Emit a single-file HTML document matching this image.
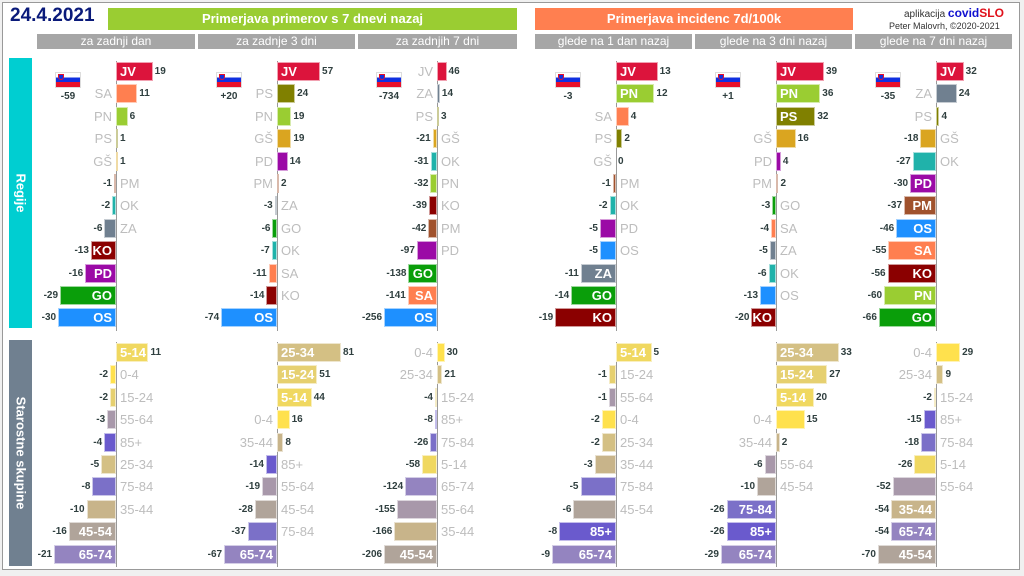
<!DOCTYPE html>
<html><head><meta charset="utf-8">
<style>
*{margin:0;padding:0;box-sizing:border-box}
body{width:1024px;height:576px;background:#f0f0f0;position:relative;overflow:hidden;font-family:"Liberation Sans",sans-serif}
#frame{position:absolute;left:2px;top:2px;width:1018px;height:568px;background:#fff;border:1px solid #999}
.a{position:absolute;white-space:nowrap}
.hdr{position:absolute;height:15px;top:34px;background:#a6a6a6;color:#fff;font-size:12px;text-align:center;line-height:15px}
.bar{position:absolute;height:19px;border:1px solid rgba(255,255,255,.6)}
.val{position:absolute;font-size:10px;color:#2f3f3f;line-height:19px;font-weight:bold}
.lab{position:absolute;font-size:13px;line-height:19px;color:#bdbdbd}
.labi{position:absolute;font-size:13px;line-height:19px;color:#fff;font-weight:bold}
.axis{position:absolute;width:1px;background:#999}
</style></head><body>
<div id="frame"></div>
<div class="a" style="left:10px;top:5px;font-size:19px;font-weight:bold;color:#0a1a7a">24.4.2021</div>
<div class="a" style="left:108px;top:8px;width:409px;height:22px;background:#9acd32;color:#fff;font-weight:bold;font-size:13px;text-align:center;line-height:22px">Primerjava primerov s 7 dnevi nazaj</div>
<div class="a" style="left:535px;top:8px;width:318px;height:22px;background:#ff7f50;color:#fff;font-weight:bold;font-size:13px;text-align:center;line-height:22px">Primerjava incidenc 7d/100k</div>
<div class="a" style="left:904px;top:6px;font-size:10px;color:#333">aplikacija <b style="color:#1010d0;font-size:12px">covid</b><b style="color:#e0101a;font-size:12px">SLO</b></div>
<div class="a" style="left:889px;top:21px;font-size:9px;color:#333">Peter Malovrh, ©2020-2021</div>
<div class="a" style="left:9px;top:58px;width:23px;height:270px;background:#00ced1"></div>
<div class="a" style="left:9px;top:340px;width:23px;height:226px;background:#708090"></div>
<div class="a" style="left:21px;top:193px;transform:translate(-50%,-50%) rotate(90deg);color:#fff;font-weight:bold;font-size:13px">Regije</div>
<div class="a" style="left:21px;top:453px;transform:translate(-50%,-50%) rotate(90deg);color:#fff;font-weight:bold;font-size:13px">Starostne skupine</div>
<div id="root"></div>
<script>
const C={JV:'#dc143c',SA:'#ff7f50',PN:'#9acd32',PS:'#808000','GŠ':'#daa520',PM:'#a0522d',OK:'#20b2aa',ZA:'#708090',KO:'#8b0000',PD:'#9b0aa6',GO:'#0a9e0a',OS:'#1e90ff',
'0-4':'#ffe14d','5-14':'#f0d860','15-24':'#e6d070','25-34':'#d4c084','35-44':'#c8b48a','45-54':'#b0a49a','55-64':'#a898aa','65-74':'#9484c0','75-84':'#7b70c8','85+':'#6a5acd'};
const hdrs=[[37,158,'za zadnji dan'],[198,157,'za zadnje 3 dni'],[358,159,'za zadnjih 7 dni'],[535,157,'glede na 1 dan nazaj'],[695,157,'glede na 3 dni nazaj'],[855,157,'glede na 7 dni nazaj']];
const ax=[116,277,437,616,776,936];
const flag=['-59','+20','-734','-3','+1','-35'];
const SR=[1.93,0.755,0.207,3.2,1.23,0.865];
const SA=[2.95,0.79,0.257,7.1,1.9,0.83];
const R=[
[['JV',19],['SA',11],['PN',6],['PS',1],['GŠ',1],['PM',-1],['OK',-2],['ZA',-6],['KO',-13],['PD',-16],['GO',-29],['OS',-30]],
[['JV',57],['PS',24],['PN',19],['GŠ',19],['PD',14],['PM',2],['ZA',-3],['GO',-6],['OK',-7],['SA',-11],['KO',-14],['OS',-74]],
[['JV',46],['ZA',14],['PS',3],['GŠ',-21],['OK',-31],['PN',-32],['KO',-39],['PM',-42],['PD',-97],['GO',-138],['SA',-141],['OS',-256]],
[['JV',13],['PN',12],['SA',4],['PS',2],['GŠ',0],['PM',-1],['OK',-2],['PD',-5],['OS',-5],['ZA',-11],['GO',-14],['KO',-19]],
[['JV',39],['PN',36],['PS',32],['GŠ',16],['PD',4],['PM',2],['GO',-3],['SA',-4],['ZA',-5],['OK',-6],['OS',-13],['KO',-20]],
[['JV',32],['ZA',24],['PS',4],['GŠ',-18],['OK',-27],['PD',-30],['PM',-37],['OS',-46],['SA',-55],['KO',-56],['PN',-60],['GO',-66]]];
const A=[
[['5-14',11],['0-4',-2],['15-24',-2],['55-64',-3],['85+',-4],['25-34',-5],['75-84',-8],['35-44',-10],['45-54',-16],['65-74',-21]],
[['25-34',81],['15-24',51],['5-14',44],['0-4',16],['35-44',8],['85+',-14],['55-64',-19],['45-54',-28],['75-84',-37],['65-74',-67]],
[['0-4',30],['25-34',21],['15-24',-4],['85+',-8],['75-84',-26],['5-14',-58],['65-74',-124],['55-64',-155],['35-44',-166],['45-54',-206]],
[['5-14',5],['15-24',-1],['55-64',-1],['0-4',-2],['25-34',-2],['35-44',-3],['75-84',-5],['45-54',-6],['85+',-8],['65-74',-9]],
[['25-34',33],['15-24',27],['5-14',20],['0-4',15],['35-44',2],['55-64',-6],['45-54',-10],['75-84',-26],['85+',-26],['65-74',-29]],
[['0-4',29],['25-34',9],['15-24',-2],['85+',-15],['75-84',-18],['5-14',-26],['55-64',-52],['35-44',-54],['65-74',-54],['45-54',-70]]];
const th={2:24,3:31,4:30,5:44};
let h='';
hdrs.forEach(x=>h+=`<div class="hdr" style="left:${x[0]}px;width:${x[1]}px">${x[2]}</div>`);
function grp(data,x0,top,s,n){
  h+=`<div class="axis" style="left:${x0}px;top:${top-1}px;height:${n*22.4+1}px"></div>`;
  data.forEach((d,i)=>{
    const y=top+i*22.4, w=Math.max(Math.abs(d[1])*s,d[1]==0?0:2), neg=d[1]<0;
    const bl=neg?x0-w:x0;
    if(w>0)h+=`<div class="bar" style="left:${bl}px;top:${y}px;width:${w}px;background:${C[d[0]]}"></div>`;
    const ones=(d[0].match(/1/g)||[]).length;
    const inside=w>=th[d[0].length]-5*ones;
    const vs=String(d[1]);
    if(neg)h+=`<div class="val" style="right:${1024-bl+2}px;top:${y}px">${vs}</div>`;
    else h+=`<div class="val" style="left:${bl+w+2}px;top:${y}px">${vs}</div>`;
    if(inside){
      if(neg)h+=`<div class="labi" style="right:${1024-x0+4}px;top:${y}px">${d[0]}</div>`;
      else h+=`<div class="labi" style="left:${x0+4}px;top:${y}px">${d[0]}</div>`;
    }else{
      if(neg)h+=`<div class="lab" style="left:${x0+4}px;top:${y}px">${d[0]}</div>`;
      else h+=`<div class="lab" style="right:${1024-x0+4}px;top:${y}px">${d[0]}</div>`;
    }
  });
}
for(let p=0;p<6;p++){
  grp(R[p],ax[p],62,SR[p],12);
  grp(A[p],ax[p],343,SA[p],10);
  const fx=ax[p]-61;
  h+=`<div class="a" style="left:${fx}px;top:72px;width:26px;height:16px;border:1px solid #ddd;background:linear-gradient(#fff 0 33%,#1030e0 33% 66%,#e8102a 66%)"></div>`;
  h+=`<div class="a" style="left:${fx+3}px;top:74px;width:6px;height:6px;border-radius:0 0 3px 3px;background:#1030e0;border:1px solid #e8102a"></div>`;
  h+=`<div class="a" style="left:${fx-12}px;width:50px;text-align:center;top:91px;font-size:10px;color:#2f3f3f;font-weight:bold">${flag[p]}</div>`;
}
document.getElementById('root').innerHTML=h;
</script>
</body></html>
